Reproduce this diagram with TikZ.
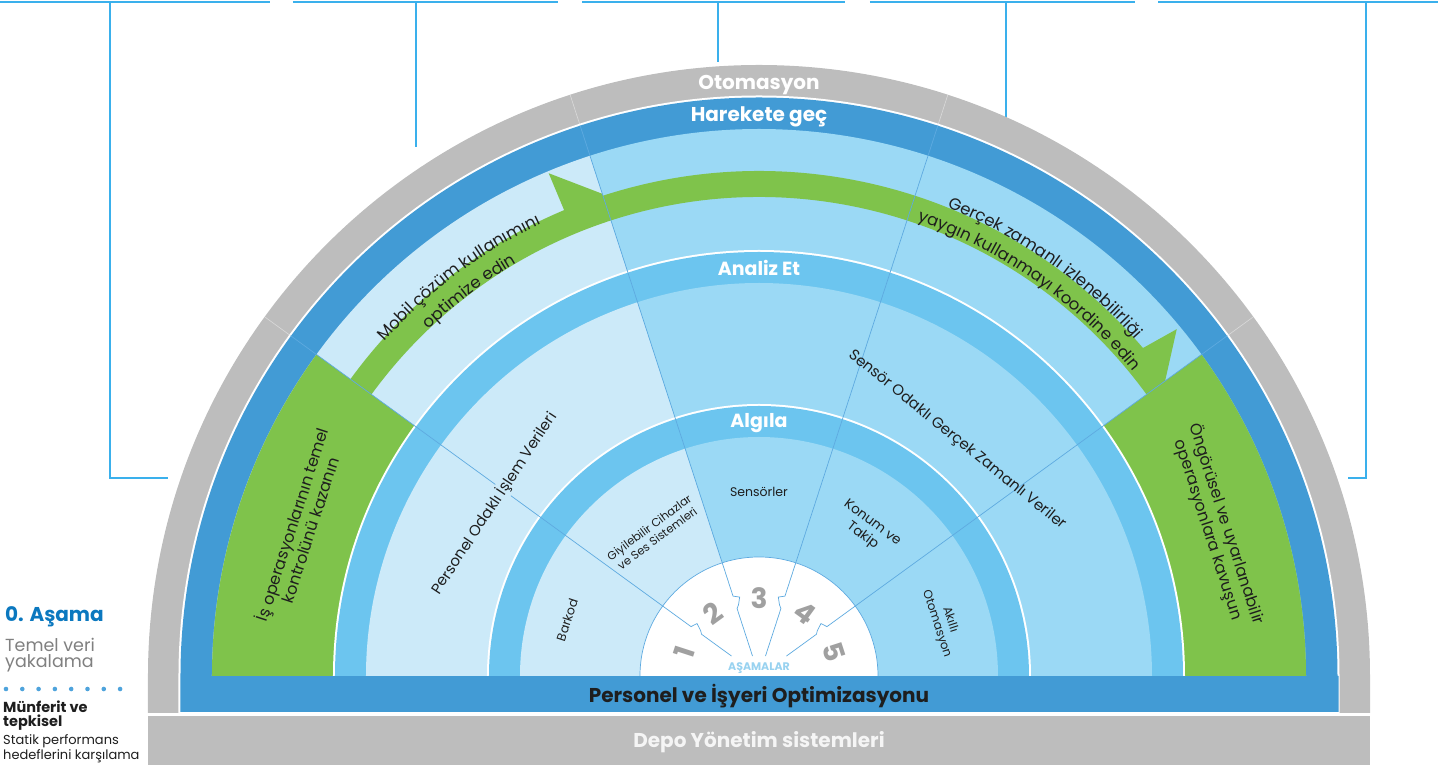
\documentclass[tikz,border=0pt]{standalone}
\usepackage{fontspec}
\setmainfont{Poppins}
\usetikzlibrary{decorations.text,calc}
\definecolor{cgray}{HTML}{BDBDBD}
\definecolor{cblue}{HTML}{429BD5}
\definecolor{cring}{HTML}{6CC5EF}
\definecolor{cpale}{HTML}{CCEAF9}
\definecolor{clight}{HTML}{9BD9F5}
\definecolor{cgreen}{HTML}{7FC34B}
\definecolor{ccall}{HTML}{3AB0EC}
\definecolor{cradial}{HTML}{5EAAE0}
\definecolor{cnum}{HTML}{A0A0A0}
\definecolor{cstage}{HTML}{0B78BF}
\definecolor{ctext}{HTML}{808080}
\definecolor{cdark}{HTML}{1E1E1E}
\definecolor{casam}{HTML}{98D2F0}
\definecolor{cdot}{HTML}{4EA3DC}
\begin{document}
\begin{tikzpicture}[x=1pt,y=1pt,
  head/.style={font=\bfseries\fontsize{20}{22}\selectfont, text=white, inner sep=0pt, anchor=base},
  blocktext/.style={font=\fontsize{16}{19}\selectfont, text=cdark, align=center, inner sep=1pt},
  bandtext/.style={font=\fontsize{15}{18}\selectfont, text=cdark, inner sep=1pt},
  sectortext/.style={font=\fontsize{12.5}{15}\selectfont, text=cdark, align=center, inner sep=0pt},
  stagenum/.style={font=\bfseries\fontsize{28}{28}\selectfont, text=cnum, inner sep=0pt},
  radial/.style={draw=cradial, line width=0.7pt},
  callout/.style={draw=ccall, line width=1.3pt},
  sidetext/.style={anchor=base west, inner sep=0pt},
  curvetext/.style={decorate, decoration={text along path, text align=center,
     text={|\fontsize{16.5}{17}\selectfont\color{cdark}|#1}}},
]
\useasboundingbox (-759,-89) rectangle (679,676);

% callout lines
\foreach \xa/\xb in {-759/-489,-466/-201,-177/86,111/376,399/679}
  \draw[callout] (\xa,674) -- (\xb,674);
\coordinate (c1t) at (-649,674); \coordinate (c1b) at (-649,198); \coordinate (c1e) at (-591,198);
\coordinate (c2t) at (-343,674); \coordinate (c2b) at (-343,529);
\coordinate (c3t) at (-41,674);  \coordinate (c3b) at (-41,614);
\coordinate (c4t) at (247,674);  \coordinate (c4b) at (247,558);
\coordinate (c5t) at (607,674);  \coordinate (c5b) at (607,198); \coordinate (c5e) at (589,198);
\draw[callout] (c1t) -- (c1b) -- (c1e);
\draw[callout] (c2t) -- (c2b);
\draw[callout] (c3t) -- (c3b);
\draw[callout] (c4t) -- (c4b);
\draw[callout] (c5t) -- (c5b) -- (c5e);

% outer gray, white gap, blue
\fill[cgray] (-611,-37) -- (-611,0) arc[start angle=180,end angle=0,radius=611] -- (611,-37) -- cycle;
\fill[white] (-580.5,-37) -- (-580.5,0) arc[start angle=180,end angle=0,radius=580.5] -- (580.5,-37) -- cycle;
\fill[cblue] (-578.5,-36) -- (-578.5,0) arc[start angle=180,end angle=0,radius=578.5] -- (579.5,0) -- (579.5,-36) -- cycle;
% Harekete content band
\fill[cpale] (0,0) -- (108:547) arc[start angle=108,end angle=180,radius=547] -- cycle;
\fill[clight] (0,0) -- (0:547) arc[start angle=0,end angle=108,radius=547] -- cycle;
\fill[cgreen] (0,0) -- (144:547) arc[start angle=144,end angle=180,radius=547] -- cycle;
\fill[cgreen] (0,0) -- (0:547) arc[start angle=0,end angle=36,radius=547] -- cycle;
% Analiz ring
\fill[white] (-426,0) arc[start angle=180,end angle=0,radius=426] -- cycle;
\fill[cring] (-424,0) arc[start angle=180,end angle=0,radius=424] -- cycle;
\fill[cpale] (0,0) -- (108:393) arc[start angle=108,end angle=180,radius=393] -- cycle;
\fill[clight] (0,0) -- (0:393) arc[start angle=0,end angle=108,radius=393] -- cycle;
% Algila ring
\fill[white] (-272,0) arc[start angle=180,end angle=0,radius=272] -- cycle;
\fill[cring] (-270,0) arc[start angle=180,end angle=0,radius=270] -- cycle;
\fill[cpale] (0,0) -- (108:239) arc[start angle=108,end angle=180,radius=239] -- cycle;
\fill[clight] (0,0) -- (0:239) arc[start angle=0,end angle=108,radius=239] -- cycle;
\fill[white] (-119,0) arc[start angle=180,end angle=0,radius=119] -- cycle;
\draw[radial] (-119,0) arc[start angle=180,end angle=0,radius=119];

% green arrows
\fill[cgreen] (144:479) arc[start angle=144,end angle=108,radius=479] -- (108:507) -- (112.7:545) -- (112.7:505) arc[start angle=112.7,end angle=144,radius=505] -- cycle;
\fill[cgreen] (108:479) arc[start angle=108,end angle=36,radius=479] -- (36:502) -- (39.7:543) -- (40.5:505) arc[start angle=40.5,end angle=108,radius=505] -- cycle;

% radial lines with notches
\foreach \a/\s/\e in {144/-90/34,108/-90/21,72/90/21,36/90/34} {
  \draw[radial] (\a:\e) -- (\a:71) -- ($(\a:74)+(\a+\s:2.5)$) -- ($(\a:81)+(\a+\s:6)$) -- (\a:84) -- (\a:579);
  \draw[white, opacity=0.45, line width=0.6pt] (\a:580) -- (\a:611);
}

% bottom gray bar
\fill[cgray] (-611,-40) rectangle (611,-89);

% headings
\node[head] (oto) at (0,586) {Otomasyon};
\node[head] (har) at (0,554) {Harekete geç};
\node[head, font=\bfseries\fontsize{19}{22}\selectfont] (ana) at (0,400) {Analiz Et};
\node[head, font=\bfseries\fontsize{19}{22}\selectfont] (alg) at (0,248) {Algıla};
\node[head, text=cdark] (pers) at (0,-27) {Personel ve İşyeri Optimizasyonu};
\node[head, text=white!96!black] (depo) at (0,-72) {Depo Yönetim sistemleri};
\node[font=\bfseries\fontsize{11}{11}\selectfont, text=casam, inner sep=0pt] (asam) at (0,8) {AŞAMALAR};

% stage numbers
\node[stagenum, rotate=72]  (n1) at (162:78) {1};
\node[stagenum, rotate=36]  (n2) at (126:78) {2};
\node[stagenum]             (n3) at (90:78)  {3};
\node[stagenum, rotate=-36] (n4) at (54:78)  {4};
\node[stagenum, rotate=-72] (n5) at (18:79)  {5};

% sector labels
\node[sectortext, rotate=72]   (bar) at (163.7:200) {Barkod};
\node[sectortext, font=\fontsize{11.5}{13.5}\selectfont, rotate=36.5] (giy) at (126.5:178) {Giyilebilir Cihazlar\\ve Ses Sistemleri};
\node[sectortext]              (sen) at (90:184) {Sensörler};
\node[sectortext, font=\fontsize{13.5}{16}\selectfont, rotate=-37] (kon) at (53.5:182) {Konum ve\\Takip};
\node[sectortext, font=\fontsize{12}{14}\selectfont, rotate=-72] (akl) at (16.4:192) {Akıllı\\Otomasyon};

% band labels
\node[bandtext, rotate=56.5, fill=cpale] (pod) at (146.9:316) {Personel Odaklı İşlem Verileri};
\node[bandtext, rotate=-39] (sod) at (50:308) {Sensör Odaklı Gerçek Zamanlı Veriler};

% block labels
\node[blocktext, rotate=72]  (ctl) at (162:482) {İş operasyonlarının temel\\kontrolünü kazanın};
\node[blocktext, rotate=-72] (prd) at (18:482) {Öngörüsel ve uyarlanabilir\\operasyonlara kavuşun};

% curved texts
\path[curvetext={Mobil çözüm kullanımını}]
  (152:502) arc[start angle=152,end angle=102,radius=502];
\path[curvetext={optimize edin}]
  (152:479) arc[start angle=152,end angle=102,radius=479];
\path[curvetext={Gerçek zamanlı izlenebilirliği}]
  (80:505) arc[start angle=80,end angle=30,radius=505];
\path[curvetext={yaygın kullanmayı koordine edin}]
  (80:482) arc[start angle=80,end angle=30,radius=482];

% left side legend
\node[sidetext, font=\bfseries\fontsize{20}{22}\selectfont, text=cstage] (s0) at (-754,54) {0. Aşama};
\node[sidetext, font=\fontsize{17.5}{20}\selectfont, text=ctext] (s1) at (-754,24) {Temel veri};
\node[sidetext, font=\fontsize{17.5}{20}\selectfont, text=ctext] (s2) at (-754,8) {yakalama};
\foreach \i in {0,...,7} \fill[cdot] (-753+\i*16.3,-13) circle (2.3);
\node[sidetext, font=\bfseries\fontsize{14.5}{16}\selectfont, text=cdark] (s3) at (-756,-37) {Münferit ve};
\node[sidetext, font=\bfseries\fontsize{14.5}{16}\selectfont, text=cdark] (s4) at (-756,-51) {tepkisel};
\node[sidetext, font=\fontsize{13}{15}\selectfont, text=cdark] (s5) at (-756,-69) {Statik performans};
\node[sidetext, font=\fontsize{13}{15}\selectfont, text=cdark] (s6) at (-756,-84) {hedeflerini karşılama};
\end{tikzpicture}
\end{document}
